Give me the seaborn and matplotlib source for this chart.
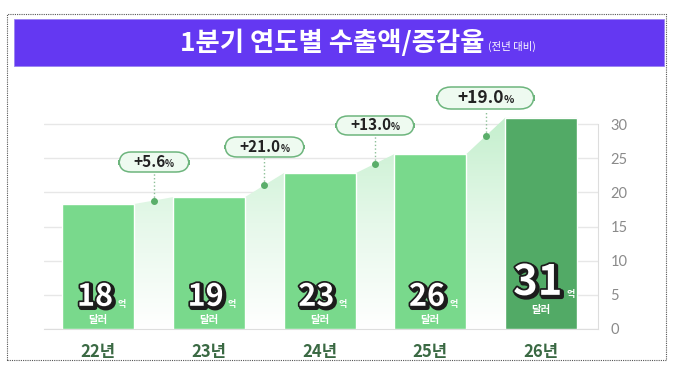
import numpy as np
import matplotlib
matplotlib.use('Agg')
import matplotlib.pyplot as plt
import matplotlib.patheffects as pe
from matplotlib.patches import Rectangle
from matplotlib.colors import LinearSegmentedColormap
from matplotlib.offsetbox import AnnotationBbox, HPacker, TextArea, DrawingArea
import seaborn as sns

# DATA
years = ['22년', '23년', '24년', '25년', '26년']
export_values = [18.3, 19.3, 22.8, 25.6, 30.9]   # 억 달러
growth_rates = [5.6, 21.0, 13.0, 19.0]           # % vs previous year
bar_colors = ['#79d98c', '#79d98c', '#79d98c', '#79d98c', '#52aa66']
y_ticks = [0, 5, 10, 15, 20, 25, 30]

sns.set_style('white')
plt.rcParams['font.family'] = ['Noto Sans CJK KR', 'DejaVu Sans']

fig = plt.figure(figsize=(6.8, 3.76), dpi=100)
ax = fig.add_axes([44 / 680, 47 / 376, 554 / 680, 249 / 376])

# outer dotted frame + purple title banner
fig.patches.append(Rectangle((7 / 680, 1 - 360 / 376), 659 / 680, 346 / 376,
                             transform=fig.transFigure, fill=False,
                             ec='#555555', lw=0.8, ls=(0, (1, 1))))
fig.patches.append(Rectangle((14 / 680, 1 - 66 / 376), 650 / 680, 47 / 376,
                             transform=fig.transFigure, fc='#6438f2', ec='#9a84f0', lw=0.6))
fig.text(484 / 680, 1 - 43 / 376, '1분기 연도별 수출액/증감율', color='white',
         fontsize=19, fontweight='bold', va='center', ha='right')
fig.text(488 / 680, 1 - 50 / 376, '(전년 대비)', color='white', fontsize=7.5,
         va='baseline', ha='left')

# bars
w = 0.65
sns.barplot(x=years, y=export_values, hue=years, palette=bar_colors, width=w,
            saturation=1, legend=False, ax=ax, zorder=3)

# gradient area following bar tops
xs, ys = [], []
for i, v in enumerate(export_values):
    xs += [i - w / 2, i + w / 2]
    ys += [v, v]
poly = ax.fill_between(xs, ys, 0, facecolor='none', edgecolor='none', zorder=1)
cmap = LinearSegmentedColormap.from_list('g', ['#ffffff', '#e6f8ea', '#c4efcd'])
grad = np.linspace(0, 1, 256).reshape(-1, 1)
im = ax.imshow(grad, extent=[xs[0], xs[-1], 0, max(export_values)], origin='lower',
               aspect='auto', cmap=cmap, zorder=1)
im.set_clip_path(poly.get_paths()[0], transform=ax.transData)

# growth callouts
for i, g in enumerate(growth_rates):
    xm = i + 0.5
    ym = (export_values[i] + export_values[i + 1]) / 2
    big = i == len(growth_rates) - 1
    fs = 12.5 if big else 11
    by = ym + 5.6
    ax.plot([xm, xm], [ym, by - (1.9 if big else 1.5)], ls=':', color='#8cbf97', lw=1, zorder=4)
    ax.scatter([xm], [ym], s=16, color='#5aae6a', zorder=5)
    pad_w = 13 if big else 9
    box = HPacker(children=[DrawingArea(pad_w, 1),
                            TextArea(f'+{g:.1f}', textprops=dict(fontsize=fs, fontweight='bold', color='#222222')),
                            TextArea('%', textprops=dict(fontsize=fs * 0.62, fontweight='bold', color='#222222')),
                            DrawingArea(pad_w, 1)],
                  align='baseline', pad=0, sep=0)
    ab = AnnotationBbox(box, (xm, by), frameon=True, box_alignment=(0.5, 0.5), pad=0.05,
                        fontsize=fs,
                        bboxprops=dict(boxstyle='round,pad=0.12,rounding_size=0.8',
                                       fc='#eefaf0', ec='#6db57d', lw=1.1),
                        zorder=6)
    ax.add_artist(ab)

# labels inside bars
for i, v in enumerate(export_values):
    last = i == len(export_values) - 1
    num = ax.text(i - 0.03, 5.0 if last else 3.4, f'{v:.0f}', ha='center', va='baseline',
                  fontsize=30 if last else 22, fontweight='black', color='white', zorder=7,
                  path_effects=[pe.Stroke(linewidth=3.5, foreground='#1c1c1c', offset=(1.3, -1.3)),
                                pe.Stroke(linewidth=2.5, foreground='#1c1c1c'),
                                pe.Normal()])
    ax.annotate('억', xy=(1, 0.12), xycoords=num, xytext=(3, 0), textcoords='offset points',
                ha='left', va='bottom', fontsize=6.5, fontweight='bold', color='white', zorder=7)
    ax.text(i, 2.0 if last else 0.55, '달러', ha='center', va='bottom',
            fontsize=7.5, fontweight='bold', color='white', zorder=7)

# axes styling
ax.set_xlim(-0.49, 4.515)
ax.set_ylim(0, 36.45)
ax.yaxis.tick_right()
ax.set_yticks(y_ticks)
ax.grid(axis='y', color='#e7e7e7', lw=1, zorder=0)
ax.set_axisbelow(True)
for s in ['top', 'left']:
    ax.spines[s].set_visible(False)
ax.spines['right'].set_bounds(0, 30)
ax.spines['right'].set_color('#dddddd')
ax.spines['bottom'].set_color('#dddddd')
ax.tick_params(axis='y', length=0, pad=9, labelsize=10.5, labelcolor='#8a8a8a')
ax.tick_params(axis='x', length=0, pad=10, labelsize=12, labelcolor='#3a6943')
for lbl in ax.get_xticklabels():
    lbl.set_fontweight('bold')
for lbl in ax.get_yticklabels():
    lbl.set_family(['Lato', 'DejaVu Sans'])
ax.set_xlabel('')
ax.set_ylabel('')

fig.savefig('out.png', dpi=100)
